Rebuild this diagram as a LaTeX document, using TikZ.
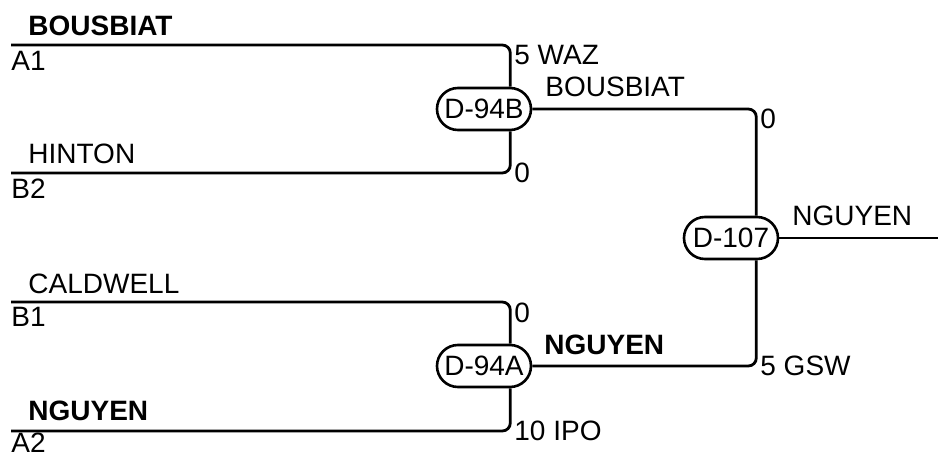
\documentclass[tikz,border=0pt]{standalone}
\usepackage{fontspec}
\setmainfont{Liberation Sans}

\tikzstyle{game} = [draw, rectangle, rounded corners=10.5pt, minimum width=47pt, minimum height=21pt, inner sep=0pt, line width=1.3pt, fill=white, font=\fontsize{14}{16}\selectfont]
\tikzstyle{bracket} = [line width=1.4pt, rounded corners=4pt]
\tikzstyle{player} = [anchor=base west, inner sep=0pt, font=\fontsize{14}{16}\selectfont]
\tikzstyle{winner} = [player, font=\fontsize{14}{16}\selectfont\bfseries]

\begin{document}
\begin{tikzpicture}[x=0.5pt,y=-0.5pt]
	\useasboundingbox (0,0) rectangle (938,455);

	\node[game] (d94b) at (484,109) {D-94B};
	\node[game] (d94a) at (484,366) {D-94A};
	\node[game] (d107) at (731,238) {D-107};
	
	\coordinate (a1) at (11,45);
	\coordinate (b2) at (11,173);
	\coordinate (b1) at (11,302);
	\coordinate (a2) at (11,431);
	\coordinate (champ) at (938,238);
	
	\draw[bracket] (a1) -| ([xshift=-11pt]d94b.north east);
	\draw[bracket] (b2) -| ([xshift=-11pt]d94b.south east);
	\draw[bracket] (b1) -| ([xshift=-11pt]d94a.north east);
	\draw[bracket] (a2) -| ([xshift=-11pt]d94a.south east);
	\draw[bracket] (d94b.east) -| ([xshift=-11.5pt]d107.north east);
	\draw[bracket] (d94a.east) -| ([xshift=-11.5pt]d107.south east);
	\draw[bracket] (d107.east) -- (champ);
	
	\node[winner] (n11) at (28,35) {BOUSBIAT};
	\node[player] (s11) at (11,70) {A1};
	\node[player] (n12) at (28,163) {HINTON};
	\node[player] (s12) at (11,198) {B2};
	\node[player] (n13) at (28,293) {CALDWELL};
	\node[player] (s13) at (11,326) {B1};
	\node[winner] (n14) at (28,420) {NGUYEN};
	\node[player] (s14) at (11,452) {A2};
	
	\node[player] (p11) at (514,64) {5 WAZ};
	\node[player] (p12) at (514,182) {0};
	\node[player] (p13) at (514,322) {0};
	\node[player] (p14) at (514,440) {10 IPO};
	
	\node[player] (n21) at (545,97) {BOUSBIAT};
	\node[winner] (n22) at (544,354) {NGUYEN};
	\node[player] (p21) at (760,128) {0};
	\node[player] (p22) at (760,375) {5 GSW};
	
	\node[player] (n31) at (792,225) {NGUYEN};
\end{tikzpicture}
\end{document}
